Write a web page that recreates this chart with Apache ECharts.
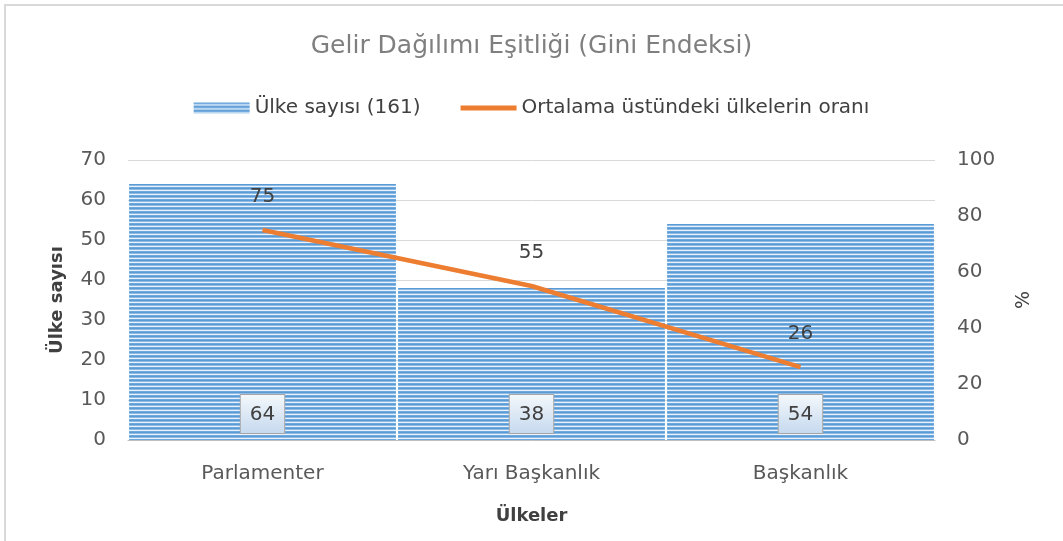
<!DOCTYPE html>
<html><head><meta charset="utf-8">
<script src="https://cdn.jsdelivr.net/npm/echarts@6/dist/echarts.min.js"></script>
<style>html,body{margin:0;padding:0;background:#fff}#c{width:1063px;height:541px}</style>
</head><body><div id="c"></div>
<script>
var categories = ['Parlamenter', 'Yarı Başkanlık', 'Başkanlık'];
var countValues = [64, 38, 54];
var ratioValues = [75, 55, 26];
var leftTicks = [0, 10, 20, 30, 40, 50, 60, 70];
var rightTicks = [0, 20, 40, 60, 80, 100];

var pc = document.createElement('canvas');
pc.width = 4; pc.height = 4;
var g = pc.getContext('2d');
g.fillStyle = '#5b9bd5'; g.fillRect(0, 0, 4, 4);
g.fillStyle = '#8dbbe6'; g.fillRect(0, 1, 4, 1);
g.fillStyle = '#eaf2fb'; g.fillRect(0, 2, 4, 1);
g.fillStyle = '#6fa8dc'; g.fillRect(0, 3, 4, 1);
var pattern = { image: pc, repeat: 'repeat' };

var font = 'DejaVu Sans, sans-serif';
var chart = echarts.init(document.getElementById('c'), null, { renderer: 'canvas' });
chart.setOption({
  animation: false,
  textStyle: { fontFamily: font },
  graphic: [{ type: 'rect', shape: { x: 5, y: 5, width: 1100, height: 600 }, style: { fill: 'none', stroke: '#d9d9d9', lineWidth: 2 }, silent: true }],
  title: { text: 'Gelir Dağılımı Eşitliği (Gini Endeksi)', left: 'center', top: 29,
    textStyle: { color: '#7f7f7f', fontSize: 25, fontWeight: 'normal', fontFamily: font } },
  legend: { top: 93, left: 'center', itemGap: 40, itemWidth: 56, itemHeight: 11,
    textStyle: { color: '#404040', fontSize: 20, fontFamily: font },
    data: [{ name: 'Ülke sayısı (161)', icon: 'rect' }, { name: 'Ortalama üstündeki ülkelerin oranı', icon: 'path://M0,0 L56,0 L56,5 L0,5 Z', itemStyle: { color: '#ed7d31' } }] },
  grid: { left: 128, right: 128, top: 160, bottom: 101 },
  xAxis: { type: 'category', data: categories,
    axisLine: { lineStyle: { color: '#bfbfbf', width: 1 } }, axisTick: { show: false },
    axisLabel: { color: '#595959', fontSize: 20, margin: 24 },
    name: 'Ülkeler', nameLocation: 'middle', nameGap: 67,
    nameTextStyle: { color: '#404040', fontSize: 18, fontWeight: 'bold' } },
  yAxis: [
    { type: 'value', min: 0, max: 70, interval: 10,
      axisLabel: { color: '#595959', fontSize: 20, margin: 22 },
      splitLine: { lineStyle: { color: '#d9d9d9' } },
      name: 'Ülke sayısı', nameLocation: 'middle', nameGap: 62, nameRotate: 90,
      nameTextStyle: { color: '#404040', fontSize: 18, fontWeight: 'bold' } },
    { type: 'value', min: 0, max: 100, interval: 20, position: 'right',
      axisLabel: { color: '#595959', fontSize: 20, margin: 22 },
      splitLine: { show: false },
      name: '%', nameLocation: 'middle', nameGap: 80, nameRotate: 90,
      nameTextStyle: { color: '#404040', fontSize: 19 } }
  ],
  series: [
    { name: 'Ülke sayısı (161)', type: 'bar', data: countValues, barCategoryGap: '0.8%',
      itemStyle: { color: pattern },
      label: { show: true, position: 'insideBottom', distance: 7, color: '#404040', fontSize: 20,
        backgroundColor: { type: 'linear', x: 0, y: 0, x2: 0, y2: 1, colorStops: [{ offset: 0, color: '#f4f8fc' }, { offset: 1, color: '#c5d9ee' }] },
        borderColor: '#a6a6a6', borderWidth: 1, padding: [10, 9, 8, 9] } },
    { name: 'Ortalama üstündeki ülkelerin oranı', type: 'line', yAxisIndex: 1, data: ratioValues,
      symbol: 'circle', symbolSize: 0.1, showSymbol: true,
      lineStyle: { color: '#ed7d31', width: 4.5 }, itemStyle: { color: '#ed7d31' },
      label: { show: true, position: 'top', distance: 23, color: '#404040', fontSize: 20 } }
  ]
});
</script></body></html>
